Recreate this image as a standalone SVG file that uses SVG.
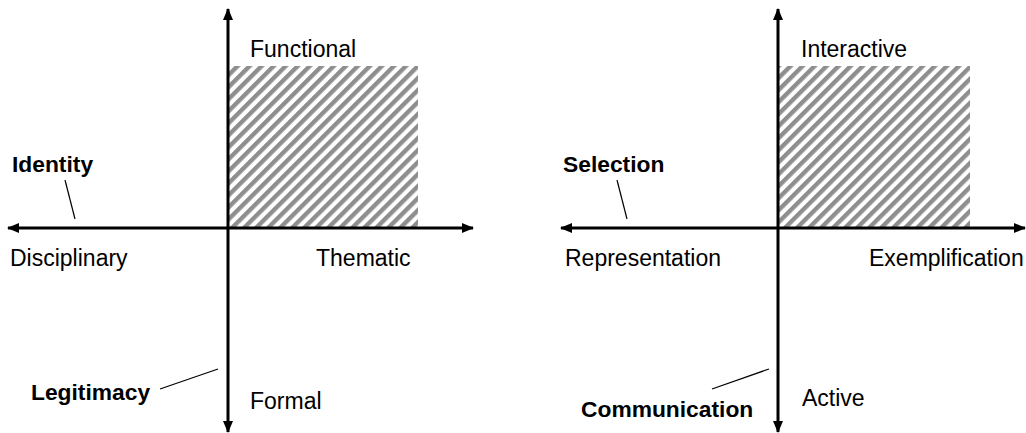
<svg xmlns="http://www.w3.org/2000/svg" width="1026" height="433" viewBox="0 0 1026 433">
<style>
.t{font-family:"Liberation Sans",Arial,sans-serif;font-size:23px;fill:#000}
.b{font-family:"Liberation Sans",Arial,sans-serif;font-size:22.8px;font-weight:bold;fill:#000}
.axis{stroke:#000;stroke-width:3;fill:none;marker-start:url(#ah);marker-end:url(#ah)}
.lead{stroke:#000;stroke-width:1.2;fill:none}
.hatch{fill:url(#hp);stroke:none}
</style>
<defs>
<marker id="ah" viewBox="0 0 12 10" refX="11" refY="5" markerWidth="12" markerHeight="10" markerUnits="userSpaceOnUse" orient="auto-start-reverse">
<path d="M0,0 L12,5 L0,10 Z" fill="#000"/>
</marker>
<pattern id="hp" patternUnits="userSpaceOnUse" width="8.5" height="8.5" patternTransform="rotate(45)">
<rect x="0" y="0" width="8.5" height="8.5" fill="#fff"/>
<rect x="0" y="0" width="4.4" height="8.5" fill="#8e8e8e"/>
</pattern>
</defs>
<g id="quadrant-left">
<rect class="hatch" x="228" y="66" width="190" height="162"/>
</g>
<g id="quadrant-right">
<rect class="hatch" x="778" y="66" width="192" height="162"/>
</g>
<g id="connectors">
<line class="axis" x1="228" y1="432" x2="228" y2="9"/>
<line class="axis" x1="8" y1="228" x2="473" y2="228"/>
<line class="axis" x1="778" y1="432" x2="778" y2="9"/>
<line class="axis" x1="561" y1="228" x2="1025" y2="228"/>
<line class="lead" x1="65" y1="180" x2="75" y2="219"/>
<line class="lead" x1="617" y1="180" x2="627" y2="219"/>
<line class="lead" x1="160" y1="389" x2="218" y2="369"/>
<line class="lead" x1="712" y1="389" x2="769" y2="369"/>
</g>
<g id="label-functional"><text class="t" x="250" y="56.5">Functional</text></g>
<g id="label-disciplinary"><text class="t" x="10" y="266">Disciplinary</text></g>
<g id="label-thematic"><text class="t" x="316" y="266">Thematic</text></g>
<g id="label-formal"><text class="t" x="250" y="409">Formal</text></g>
<g id="label-identity"><text class="b" x="12" y="171.5">Identity</text></g>
<g id="label-legitimacy"><text class="b" x="31" y="400">Legitimacy</text></g>
<g id="label-interactive"><text class="t" x="801" y="56.5">Interactive</text></g>
<g id="label-representation"><text class="t" x="565" y="266">Representation</text></g>
<g id="label-exemplification"><text class="t" x="869" y="266">Exemplification</text></g>
<g id="label-active"><text class="t" x="802" y="406">Active</text></g>
<g id="label-selection"><text class="b" x="563" y="171.5">Selection</text></g>
<g id="label-communication"><text class="b" x="581" y="417">Communication</text></g>
</svg>
